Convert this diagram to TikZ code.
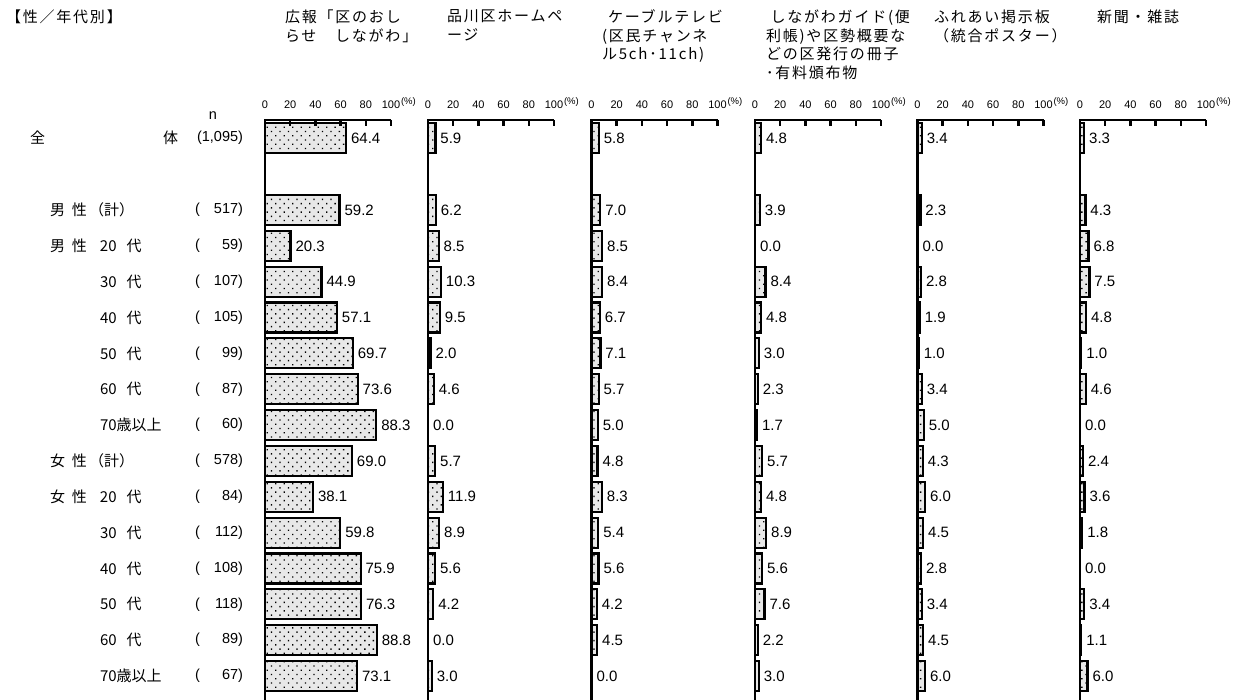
\documentclass[tikz,border=0pt]{standalone}
\usepackage{fontspec}
\setmainfont{Liberation Sans}
\newfontfamily\jp{Noto Sans CJK JP}
\newfontfamily\jphd[LetterSpace=12]{Noto Sans CJK JP}
\usetikzlibrary{patterns.meta,positioning}

\begin{document}
\begin{tikzpicture}[
        x=1pt, y=-1pt,
        every node/.style={inner sep=0pt, outer sep=0pt},
        head/.style={anchor=north west, align=left, font=\jphd\fontsize{15}{18.5}\selectfont},
        rowlbl/.style={anchor=west, font=\jp\fontsize{15}{15}\selectfont},
        nlbl/.style={font=\fontsize{14.5}{14.5}\selectfont},
        ticklbl/.style={anchor=south, font=\fontsize{11}{11}\selectfont},
        pctlbl/.style={anchor=west, font=\fontsize{9.5}{9.5}\selectfont},
        vallbl/.style={anchor=west, font=\fontsize{15}{15}\selectfont},
        axis/.style={line width=2.5pt},
        bar/.style={draw, line width=2.2pt, preaction={fill=gray!18},
                    pattern={Dots[distance=6pt, angle=45, radius=0.95pt]}}
    ]
  \useasboundingbox (0,0) rectangle (1250,700);

  % Headers
  \node[head] (title) at (6,10) {【性／年代別】};
  \node[head] (h1) at (285,10) {広報「区のおし\\らせ　しながわ」};
  \node[head] (h2) at (447,10) {品川区ホームペ\\ージ};
  \node[head] (h3) at (602,10) {\hspace*{0.4em}ケーブルテレビ\\(区民チャンネ\\ル5ch･11ch)};
  \node[head] (h4) at (766,10) {\hspace*{0.3em}しながわガイド(便\\利帳)や区勢概要な\\どの区発行の冊子\\･有料頒布物};
  \node[head] (h5) at (934,10) {ふれあい掲示板\\（統合ポスター）};
  \node[head] (h6) at (1097,10) {新聞・雑誌};
  \node[nlbl] (nhead) at (213,116) {n};

  % Row labels
  \node[rowlbl] (all-a) at (30,138) {全};
  \node[rowlbl] (all-b) at (163,138) {体};
  \node[nlbl, anchor=east] (n-0) at (243,138) {(1,095)};
  \foreach \r/\lx/\txt/\n in {
      1/50/{男\hspace{7pt}性\hspace{2pt}（計）}/517,
      2/50/{男\hspace{7pt}性\hspace{13pt}20\hspace{10pt}代}/59,
      3/100/{30\hspace{10pt}代}/107,
      4/100/{40\hspace{10pt}代}/105,
      5/100/{50\hspace{10pt}代}/99,
      6/100/{60\hspace{10pt}代}/87,
      7/100/{70歳以上}/60,
      8/50/{女\hspace{7pt}性\hspace{2pt}（計）}/578,
      9/50/{女\hspace{7pt}性\hspace{13pt}20\hspace{10pt}代}/84,
      10/100/{30\hspace{10pt}代}/112,
      11/100/{40\hspace{10pt}代}/108,
      12/100/{50\hspace{10pt}代}/118,
      13/100/{60\hspace{10pt}代}/89,
      14/100/{70歳以上}/67} {
    \pgfmathsetmacro{\y}{210+(\r-1)*35.85}
    \node[rowlbl] (row-\r) at (\lx,\y) {\txt};
    \node[nlbl, anchor=west] (par-\r) at (195,\y) {(};
    \node[nlbl, anchor=east] (n-\r) at (243,\y) {\n)};
  }

  % Panels
  \foreach \x/\vals [count=\p] in {
      265/{64.4,59.2,20.3,44.9,57.1,69.7,73.6,88.3,69.0,38.1,59.8,75.9,76.3,88.8,73.1},
      428/{5.9,6.2,8.5,10.3,9.5,2.0,4.6,0.0,5.7,11.9,8.9,5.6,4.2,0.0,3.0},
      591.5/{5.8,7.0,8.5,8.4,6.7,7.1,5.7,5.0,4.8,8.3,5.4,5.6,4.2,4.5,0.0},
      755/{4.8,3.9,0.0,8.4,4.8,3.0,2.3,1.7,5.7,4.8,8.9,5.6,7.6,2.2,3.0},
      917.5/{3.4,2.3,0.0,2.8,1.9,1.0,3.4,5.0,4.3,6.0,4.5,2.8,3.4,4.5,6.0},
      1080/{3.3,4.3,6.8,7.5,4.8,1.0,4.6,0.0,2.4,3.6,1.8,0.0,3.4,1.1,6.0}} {
    % bars
    \foreach \v [count=\r from 0] in \vals {
      \pgfmathsetmacro{\y}{\r==0 ? 138 : 210+(\r-1)*35.85}
      \ifdim\v pt>0pt
        \draw[bar] (\x,\y-15) rectangle ({\x+\v*1.26},\y+15);
      \fi
      \node[vallbl] (v-\p-\r) at ({\x+\v*1.26+5},\y) {\v};
    }
    % axes
    \draw[axis] (\x,700) -- (\x,120) -- ({\x+126},120);
    \foreach \t [count=\k from 0] in {0,20,40,60,80,100} {
      \draw[axis] ({\x+\k*25.2},120) -- ({\x+\k*25.2},126);
      \node[ticklbl] (t-\p-\k) at ({\x+\k*25.2},109) {\t};
    }
    \node[pctlbl] (pct-\p) at ({\x+136},102) {(\%)};
  }
\end{tikzpicture}
\end{document}
